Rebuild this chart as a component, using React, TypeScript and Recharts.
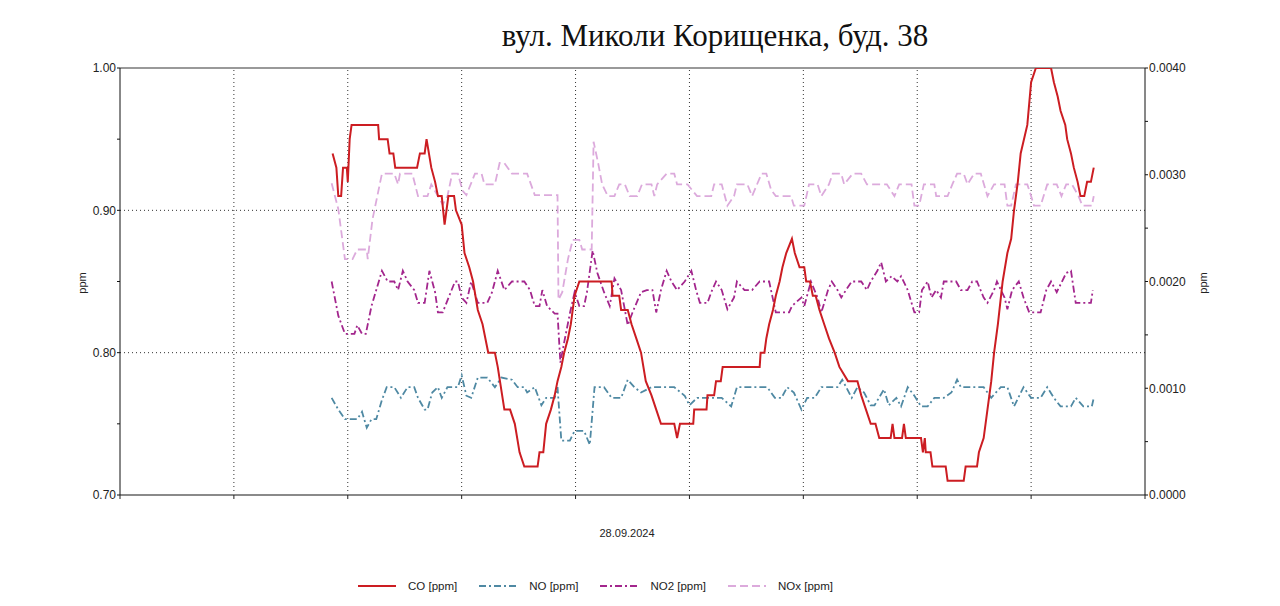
import React from 'react';
import { LineChart, Line, XAxis, YAxis, ReferenceLine } from 'recharts';

// time in minutes from the left edge of the axis (9 divisions of 60 min)
const coTimes = [112,114,115,116.5,117.5,119.5,120,121,122,136,136.5,141,142,144,145,156.5,158,160.5,161.5,164,166,167.5,169.5,171,173,176,177,180,181.5,184,186,188.5,191,194,197.5,199,202.5,205.5,208,210.5,213,220,221,223,224.5,227,229,230.5,232.5,234,236,237.5,239.5,242,259,259.5,263,264,267.5,269.5,272,274.5,277,280,282.5,285,292,293.5,295,302,302.5,309,309.5,313,314,316.5,317.5,337,337.5,339.5,340.5,342,344,345.5,347.5,349,351,354,355.5,358,360.5,361.5,363.5,365,366.5,368.5,371,373.5,376.5,379,383.5,388.5,390.5,393,395.5,398,400,406,407,408,412,413,414,422,423,424,424.5,427,428,435,436,444.5,445.5,451.5,452.5,455,457,459,460.5,462.5,465,467.5,469.5,471,473,474.5,478,480,482.5,490.5,492,494,495.5,498,499,501,502.5,504.5,506,508,509.5,511.5,513];
const coValues = [0.94,0.93,0.91,0.91,0.93,0.93,0.92,0.95,0.96,0.96,0.95,0.95,0.94,0.94,0.93,0.93,0.94,0.94,0.95,0.93,0.92,0.91,0.91,0.89,0.91,0.91,0.90,0.89,0.87,0.86,0.85,0.83,0.82,0.80,0.80,0.79,0.76,0.76,0.75,0.73,0.72,0.72,0.73,0.73,0.75,0.76,0.77,0.78,0.79,0.80,0.81,0.82,0.84,0.85,0.85,0.84,0.84,0.83,0.83,0.82,0.81,0.80,0.78,0.77,0.76,0.75,0.75,0.74,0.75,0.75,0.76,0.76,0.77,0.77,0.78,0.78,0.79,0.79,0.80,0.80,0.81,0.82,0.83,0.84,0.85,0.86,0.87,0.88,0.87,0.86,0.86,0.85,0.85,0.84,0.84,0.83,0.82,0.81,0.80,0.79,0.78,0.78,0.77,0.76,0.75,0.75,0.74,0.74,0.75,0.74,0.74,0.75,0.74,0.74,0.73,0.74,0.73,0.73,0.72,0.72,0.71,0.71,0.72,0.72,0.73,0.74,0.76,0.78,0.80,0.82,0.85,0.87,0.88,0.90,0.92,0.94,0.96,0.99,1.00,1.00,0.99,0.98,0.97,0.96,0.95,0.94,0.93,0.92,0.91,0.91,0.92,0.92,0.93];

const noTimes = [111.5,115,118.5,125,127.5,130,132.5,135,138,140.5,144.5,148,151.5,155,157,160.5,162,164.5,167.5,169.5,172.5,178,180,182.5,185,188.5,193.5,197.5,201,206.5,209.5,213,214.5,218.5,222,224.5,229,230.5,232.5,237,239.5,244.5,247.5,250,255,259,264,267.5,271,274.5,280,283,287,292,297.5,300,304,317,322,325,341,345,348.5,351.5,355,359,362,366,369.5,375,378,380.5,385.5,388.5,392,395.5,397.5,402.5,405,409,411.5,415,418.5,422,425.5,429,434,438,441,443,455,459,464,467.5,471,476,480,485,488.5,492,495.5,501,503.5,507.5,512,513];
const noValues = [0.00091,0.00080,0.00071,0.00071,0.00078,0.00063,0.00071,0.00071,0.00089,0.00101,0.00101,0.00091,0.00101,0.00101,0.00091,0.00080,0.00080,0.00096,0.00101,0.00091,0.00101,0.00101,0.00112,0.00093,0.00091,0.00110,0.00110,0.00101,0.00110,0.00108,0.00101,0.00101,0.00096,0.00101,0.00084,0.00091,0.00091,0.00101,0.00051,0.00051,0.00060,0.00060,0.00047,0.00101,0.00101,0.00091,0.00091,0.00108,0.00101,0.00096,0.00101,0.00101,0.00101,0.00101,0.00093,0.00084,0.00091,0.00091,0.00083,0.00101,0.00101,0.00091,0.00091,0.00101,0.00096,0.00080,0.00091,0.00091,0.00101,0.00101,0.00101,0.00108,0.00091,0.00101,0.00096,0.00084,0.00084,0.00099,0.00084,0.00091,0.00083,0.00101,0.00093,0.00083,0.00083,0.00091,0.00091,0.00096,0.00108,0.00101,0.00101,0.00091,0.00101,0.00101,0.00083,0.00101,0.00091,0.00091,0.00101,0.00091,0.00083,0.00083,0.00091,0.00083,0.00083,0.00091];

const no2Times = [111.5,115,118.5,123.5,125,127.5,129.5,132.5,138,141,144.5,146.5,149,151.5,155,157,160.5,163,166,167.5,170,172,176.5,178,180,182.5,185,188.5,193.5,196,199,202.5,206.5,213,216,218.5,221,222.5,225,229,230.5,232,234,237,239.5,242,244.5,246,249,251.5,255,258,260.5,264,267.5,270,274.5,277.5,280.5,282.5,285,288,290.5,293.5,297.5,301,303.5,305.5,309.5,311.5,314,317,320,323.5,325,329,333,337,342,345.5,352.5,354,359,360.5,364,367.5,369.5,373,375,378,380,382.5,385.5,390.5,393.5,395.5,399,401,403.5,406.5,409.5,411.5,415,418.5,421,422.5,425.5,427.5,430,432.5,434,440.5,443,446.5,449,451.5,455,457,460.5,462,466,467.5,470,473.5,476,479,485,488,490.5,493.5,498.5,501,503.5,511.5,512.5];
const no2Values = [0.00200,0.00168,0.00151,0.00151,0.00159,0.00151,0.00151,0.00177,0.00210,0.00200,0.00200,0.00192,0.00210,0.00200,0.00192,0.00180,0.00180,0.00210,0.00190,0.00171,0.00171,0.00180,0.00200,0.00200,0.00185,0.00180,0.00200,0.00180,0.00180,0.00190,0.00210,0.00192,0.00200,0.00200,0.00192,0.00177,0.00177,0.00192,0.00177,0.00170,0.00170,0.00124,0.00143,0.00170,0.00190,0.00177,0.00177,0.00190,0.00229,0.00208,0.00190,0.00177,0.00203,0.00192,0.00159,0.00171,0.00190,0.00192,0.00192,0.00171,0.00192,0.00210,0.00200,0.00192,0.00200,0.00210,0.00192,0.00180,0.00180,0.00190,0.00200,0.00192,0.00174,0.00185,0.00200,0.00192,0.00192,0.00200,0.00200,0.00171,0.00171,0.00177,0.00185,0.00177,0.00200,0.00185,0.00171,0.00192,0.00200,0.00192,0.00185,0.00192,0.00200,0.00200,0.00192,0.00200,0.00210,0.00218,0.00200,0.00205,0.00200,0.00205,0.00192,0.00171,0.00171,0.00192,0.00200,0.00185,0.00192,0.00185,0.00200,0.00200,0.00192,0.00192,0.00200,0.00200,0.00185,0.00180,0.00192,0.00200,0.00185,0.00174,0.00192,0.00200,0.00185,0.00171,0.00171,0.00192,0.00200,0.00190,0.00208,0.00210,0.00180,0.00180,0.00192];

const noxTimes = [111.5,115,118.5,122.5,125,130,130.5,133,138,144.5,146.5,147.5,154,157,162,164,167.5,170,172.5,175,178,180.5,182.5,187,190.5,192,197.5,200,202.5,206.5,214.5,218.5,230.5,231,233,236,238.5,242,243.5,248.5,249.5,252,254,257,260.5,263,266,268.5,272.5,275,280,281.5,283,288,292,293.5,299,304,311.5,313,317,320,323.5,325,330.5,333,338,340.5,343,345.5,353.5,355,360.5,363,367.5,369.5,373.5,375.5,380,381.5,386,390.5,393.5,404,408,410.5,417,418.5,421,423.5,429,430,436,438.5,441,444.5,446.5,450,453.5,457,460.5,466,467.5,469.5,472,478,480,481.5,485,488.5,493.5,496,498.5,501.5,505,507,512,513];
const noxValues = [0.00292,0.00268,0.00221,0.00221,0.00230,0.00230,0.00221,0.00258,0.00301,0.00301,0.00291,0.00301,0.00301,0.00280,0.00280,0.00291,0.00280,0.00272,0.00280,0.00301,0.00301,0.00285,0.00281,0.00301,0.00301,0.00291,0.00291,0.00311,0.00311,0.00301,0.00301,0.00281,0.00281,0.00183,0.00190,0.00221,0.00239,0.00239,0.00230,0.00230,0.00331,0.00310,0.00291,0.00280,0.00280,0.00291,0.00291,0.00280,0.00280,0.00291,0.00291,0.00280,0.00291,0.00301,0.00301,0.00291,0.00291,0.00280,0.00280,0.00291,0.00291,0.00271,0.00280,0.00291,0.00291,0.00280,0.00301,0.00301,0.00286,0.00280,0.00280,0.00271,0.00271,0.00291,0.00291,0.00280,0.00291,0.00301,0.00301,0.00291,0.00301,0.00301,0.00291,0.00291,0.00280,0.00291,0.00291,0.00271,0.00271,0.00291,0.00291,0.00280,0.00280,0.00291,0.00301,0.00301,0.00291,0.00301,0.00301,0.00280,0.00291,0.00291,0.00271,0.00271,0.00291,0.00291,0.00280,0.00271,0.00271,0.00291,0.00291,0.00280,0.00291,0.00291,0.00280,0.00271,0.00271,0.00280];

const xTicks = [0, 60, 120, 180, 240, 300, 360, 420, 480, 540];
const xGrid = [60, 120, 180, 240, 300, 360, 420, 480];
const leftTicks = [0.7, 0.75, 0.8, 0.85, 0.9, 0.95, 1.0];
const leftLabelled = [0.7, 0.8, 0.9, 1.0];
const yGrid = [0.8, 0.9];
const rightTicks = [0, 0.0005, 0.001, 0.0015, 0.002, 0.0025, 0.003, 0.0035, 0.004];
const rightLabelled = [0, 0.001, 0.002, 0.003, 0.004];

const seriesNames = ['CO [ppm]', 'NO [ppm]', 'NO2 [ppm]', 'NOx [ppm]'];
const colors = ['#cc1d22', '#4f89a3', '#a3268d', '#dcaadc'];
const dashes = ['', '7 3 2 3', '7 3 2 3', '8 4'];

const zip = (t: number[], v: number[]) => t.map((x, i) => ({ t: x, v: v[i] }));
const coData = zip(coTimes, coValues);
const noData = zip(noTimes, noValues);
const no2Data = zip(no2Times, no2Values);
const noxData = zip(noxTimes, noxValues);

const sans = '"Liberation Sans", Arial, sans-serif';

export default function App() {
  const near = (v: number, list: number[]) => list.some((l) => Math.abs(l - v) < 1e-9);
  return (
    <div style={{ position: 'relative', width: 1264, height: 598, fontFamily: sans }}>
      <div
        style={{
          position: 'absolute', left: 207, top: 12, width: 1000, textAlign: 'center',
          fontFamily: '"Liberation Serif", "Times New Roman", serif', fontSize: 31, lineHeight: '31px', color: '#111',
        }}
      >
        вул. Миколи Корищенка, буд. 38
      </div>
      <LineChart width={1264} height={590} margin={{ top: 60, right: 0, bottom: 73, left: 0 }}>
        <XAxis
          type="number" dataKey="t" domain={[0, 540]} ticks={xTicks} allowDataOverflow
          tickFormatter={() => ''} tickSize={4} axisLine={{ stroke: '#8a8a8a', strokeWidth: 2 }}
          tickLine={{ stroke: '#222' }} height={30}
        />
        <YAxis
          yAxisId="left" orientation="left" domain={[0.7, 1.0]} ticks={leftTicks} width={112}
          allowDataOverflow tickSize={3} tickMargin={1}
          tickFormatter={(v: number) => (near(v, leftLabelled) ? v.toFixed(2) : '')}
          axisLine={{ stroke: '#111' }} tickLine={{ stroke: '#111' }}
          tick={{ fill: '#222', fontSize: 12, fontFamily: sans }}
        />
        <YAxis
          yAxisId="right" orientation="right" domain={[0, 0.004]} ticks={rightTicks} width={127}
          allowDataOverflow tickSize={3} tickMargin={1}
          tickFormatter={(v: number) => (near(v, rightLabelled) ? v.toFixed(4) : '')}
          axisLine={{ stroke: '#111' }} tickLine={{ stroke: '#111' }}
          tick={{ fill: '#222', fontSize: 12, fontFamily: sans }}
        />
        {xGrid.map((x) => (
          <ReferenceLine key={'vx' + x} x={x} yAxisId="left" stroke="#333" strokeDasharray="1 3" />
        ))}
        {yGrid.map((y) => (
          <ReferenceLine key={'hy' + y} y={y} yAxisId="left" stroke="#333" strokeDasharray="1 3" />
        ))}
        <ReferenceLine y={1.0} yAxisId="left" stroke="#777" strokeWidth={1.5} />
        <Line data={noxData} dataKey="v" yAxisId="right" type="linear" stroke={colors[3]} strokeWidth={1.8}
          strokeDasharray={dashes[3]} dot={false} activeDot={false} isAnimationActive={false} name={seriesNames[3]} />
        <Line data={no2Data} dataKey="v" yAxisId="right" type="linear" stroke={colors[2]} strokeWidth={1.8}
          strokeDasharray={dashes[2]} dot={false} activeDot={false} isAnimationActive={false} name={seriesNames[2]} />
        <Line data={noData} dataKey="v" yAxisId="right" type="linear" stroke={colors[1]} strokeWidth={1.8}
          strokeDasharray={dashes[1]} dot={false} activeDot={false} isAnimationActive={false} name={seriesNames[1]} />
        <Line data={coData} dataKey="v" yAxisId="left" type="linear" stroke={colors[0]} strokeWidth={2}
          dot={false} activeDot={false} isAnimationActive={false} name={seriesNames[0]} />
      </LineChart>
      <div style={{ position: 'absolute', left: 74, top: 275, transform: 'translate(-50%, -50%) rotate(-90deg)', fontSize: 11, color: '#222' }}>ppm</div>
      <div style={{ position: 'absolute', left: 1195, top: 275, transform: 'translate(-50%, -50%) rotate(-90deg)', fontSize: 11, color: '#222' }}>ppm</div>
      <div style={{ position: 'absolute', left: 519, top: 520, width: 200, textAlign: 'center', fontSize: 11, lineHeight: '11px', color: '#222' }}>28.09.2024</div>
      <div style={{ position: 'absolute', left: 350, top: 572, display: 'flex', alignItems: 'center', fontSize: 11.5, color: '#222' }}>
        {seriesNames.map((n, i) => (
          <div key={n} style={{ display: 'flex', alignItems: 'center', marginRight: 22 }}>
            <svg width={38} height={6} style={{ marginRight: 12 }}>
              <line x1={0} y1={3} x2={38} y2={3} stroke={colors[i]} strokeWidth={2} strokeDasharray={dashes[i] || undefined} />
            </svg>
            <span>{n}</span>
          </div>
        ))}
      </div>
    </div>
  );
}
